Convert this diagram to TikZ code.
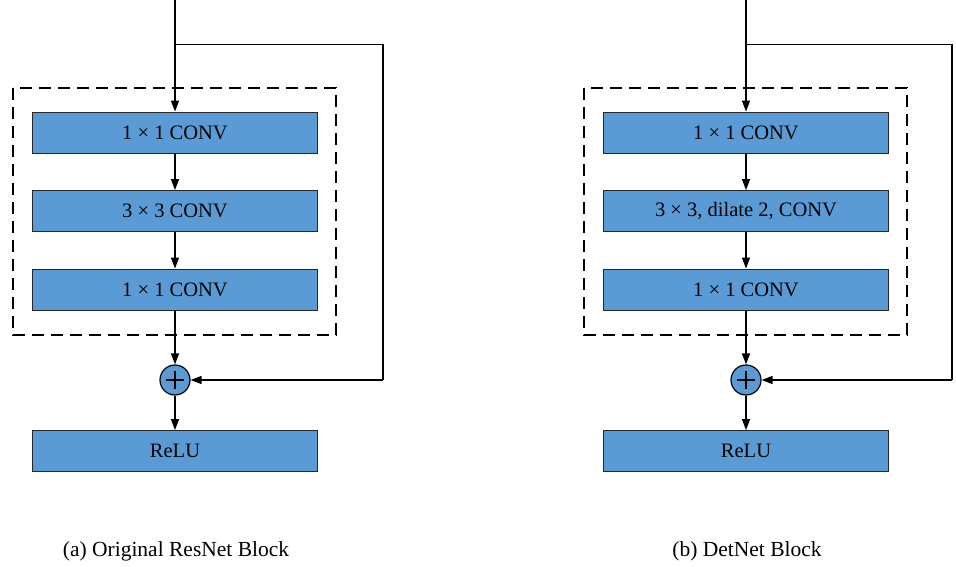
\documentclass[tikz,border=0pt]{standalone}
\usepackage{fontspec}
\setmainfont{Liberation Serif}
\usetikzlibrary{arrows.meta}
\definecolor{boxblue}{HTML}{5B9BD5}
\tikzset{
  convbox/.style={draw=black!85, line width=0.9pt, fill=boxblue, minimum width=285pt, minimum height=41pt, inner sep=0pt, font=\fontsize{20.5}{24}\selectfont},
  arr/.style={line width=1.4pt, -{Triangle[length=11pt,width=8pt]}},
  plain/.style={line width=1.4pt},
  dashbox/.style={line width=1.4pt, dash pattern=on 12pt off 7pt},
  plusnode/.style={circle, draw=black, line width=1.2pt, fill=boxblue, minimum size=30pt, inner sep=0pt},
  caption/.style={font=\fontsize{21.5}{25}\selectfont, inner sep=0pt}
}
\begin{document}
\begin{tikzpicture}[x=1pt,y=-1pt]
\useasboundingbox (0,0) rectangle (956,567);
% ---------- (a) ----------
\draw[dashbox] (13,88) rectangle (336,335);
\node[convbox] (a1) at (175,132.5) {1 × 1 CONV};
\node[convbox] (a2) at (175,211) {3 × 3 CONV};
\node[convbox] (a3) at (175,289.5) {1 × 1 CONV};
\node[plusnode] (ap) at (175,380) {};
\draw[line width=1.8pt] (ap.center) ++(-9,0) -- ++(18,0);
\draw[line width=1.8pt] (ap.center) ++(0,-9) -- ++(0,18);
\node[convbox] (ar) at (175,451) {ReLU};
\coordinate (ain) at (175,0);
\coordinate (aj) at (175,44.5);
\coordinate (ac1) at (383,44.5);
\coordinate (ac2) at (383,380);
\draw[arr] (ain) -- (a1);
\draw[arr] (a1) -- (a2);
\draw[arr] (a2) -- (a3);
\draw[arr] (a3) -- (ap);
\draw[arr] (ap) -- (ar);
\draw[plain] (aj) -- (ac1) -- (ac2);
\draw[arr] (ac2) -- (ap);
\node[caption] (acap) at (176,551) {(a) Original ResNet Block};
% ---------- (b) ----------
\draw[dashbox] (584,88) rectangle (907,335);
\node[convbox] (b1) at (746,132.5) {1 × 1 CONV};
\node[convbox] (b2) at (746,211) {3 × 3, dilate 2, CONV};
\node[convbox] (b3) at (746,289.5) {1 × 1 CONV};
\node[plusnode] (bp) at (746,380) {};
\draw[line width=1.8pt] (bp.center) ++(-9,0) -- ++(18,0);
\draw[line width=1.8pt] (bp.center) ++(0,-9) -- ++(0,18);
\node[convbox] (br) at (746,451) {ReLU};
\coordinate (bin) at (746,0);
\coordinate (bj) at (746,44.5);
\coordinate (bc1) at (952,44.5);
\coordinate (bc2) at (952,380);
\draw[arr] (bin) -- (b1);
\draw[arr] (b1) -- (b2);
\draw[arr] (b2) -- (b3);
\draw[arr] (b3) -- (bp);
\draw[arr] (bp) -- (br);
\draw[plain] (bj) -- (bc1) -- (bc2);
\draw[arr] (bc2) -- (bp);
\node[caption] (bcap) at (747,551) {(b) DetNet Block};
\end{tikzpicture}
\end{document}
